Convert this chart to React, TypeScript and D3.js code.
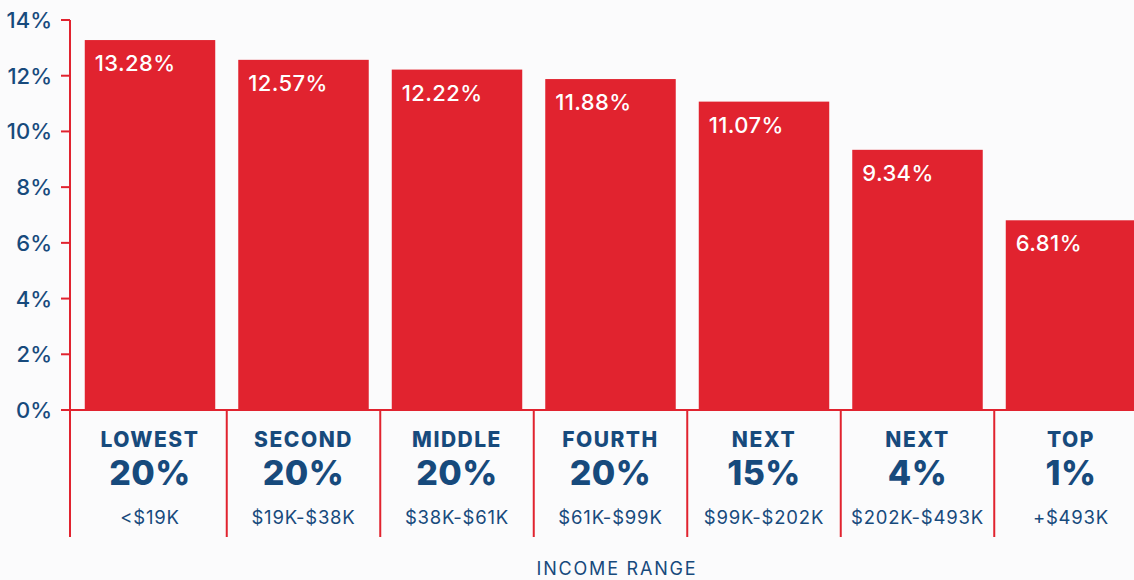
import React from "react";
import * as d3 from "d3";

const groups = ["LOWEST", "SECOND", "MIDDLE", "FOURTH", "NEXT", "NEXT", "TOP"];
const shares = ["20%", "20%", "20%", "20%", "15%", "4%", "1%"];
const ranges = ["<$19K", "$19K-$38K", "$38K-$61K", "$61K-$99K", "$99K-$202K", "$202K-$493K", "+$493K"];
const values = [13.28, 12.57, 12.22, 11.88, 11.07, 9.34, 6.81];
const yTicks = [0, 2, 4, 6, 8, 10, 12, 14];

const W = 1134;
const H = 580;
const RED = "#e1232f";
const NAVY = "#174a7c";
const FONT = "Inter, 'Open Sans', sans-serif";

export default function App() {
  const idx = groups.map((_, i) => i);
  const x = d3.scaleBand<number>().domain(idx).range([73.25, 1147.75]).paddingInner(0.15).paddingOuter(0.075);
  const y = d3.scaleLinear().domain([0, 14]).range([410, 20]);
  const step = x.step();
  const gap = step - x.bandwidth();
  const axisX = 70;
  const bottom = 537;

  return (
    <svg width={W} height={H} style={{ position: "absolute", left: 0, top: 0, background: "#fbfbfc" }}>
      <rect x={0} y={0} width={W} height={H} fill="#fbfbfc" />
      {values.map((v, i) => (
        <g key={i}>
          <rect x={x(i)} y={y(v)} width={x.bandwidth()} height={y(0) - y(v)} fill={RED} />
          <text x={(x(i) as number) + 10} y={y(v) + 31} fill="#fff" fontFamily={FONT} fontSize={22} fontWeight={500} letterSpacing={0.4}>
            {v.toFixed(2)}%
          </text>
        </g>
      ))}
      {/* baseline */}
      <line x1={61} x2={W} y1={y(0)} y2={y(0)} stroke={RED} strokeWidth={2} />
      {/* y axis */}
      <line x1={axisX} x2={axisX} y1={y(14)} y2={bottom} stroke={RED} strokeWidth={2} />
      {yTicks.map((t) => (
        <g key={t}>
          <line x1={61} x2={axisX} y1={y(t)} y2={y(t)} stroke={RED} strokeWidth={2} />
          <text x={52} y={y(t) + 8} textAnchor="end" fill={NAVY} fontFamily={FONT} fontSize={22} fontWeight={500}>
            {t}%
          </text>
        </g>
      ))}
      {/* separators */}
      {idx.slice(1).map((i) => (
        <line key={i} x1={(x(i) as number) - gap / 2} x2={(x(i) as number) - gap / 2} y1={y(0)} y2={bottom} stroke={RED} strokeWidth={2} />
      ))}
      {/* category labels */}
      {idx.map((i) => {
        const cx = (x(i) as number) + x.bandwidth() / 2;
        return (
          <g key={i} fill={NAVY} fontFamily={FONT} textAnchor="middle">
            <text x={cx} y={447} fontSize={21} fontWeight={800} letterSpacing={1.5}>{groups[i]}</text>
            <text x={cx} y={485} fontSize={34} fontWeight={800} letterSpacing={0.5}>{shares[i]}</text>
            <text x={cx} y={524} fontSize={18.5} fontWeight={400} letterSpacing={0.8}>{ranges[i]}</text>
          </g>
        );
      })}
      <text x={617} y={575} textAnchor="middle" fill={NAVY} fontFamily={FONT} fontSize={18} fontWeight={400} letterSpacing={1.8}>
        INCOME RANGE
      </text>
    </svg>
  );
}
